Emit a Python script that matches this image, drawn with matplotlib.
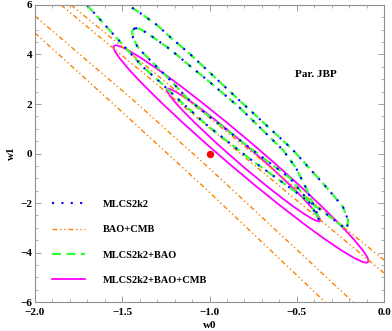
# w0-w1 confidence contours, JBP parametrisation

import matplotlib
matplotlib.use('Agg')
import matplotlib.pyplot as plt
from matplotlib.patches import Ellipse
from matplotlib.ticker import MultipleLocator

# MLCS2k2 and MLCS2k2+BAO contours coincide on the figure (w0, w1)
outer_w0 = [-1.702, -1.599, -1.496, -1.381, -1.284, -1.181, -1.009, -0.768, -0.521, -0.338, -0.241, -0.212,
            -0.206, -0.235, -0.287, -0.367, -0.527, -0.831, -1.112, -1.226, -1.301, -1.381, -1.467]
outer_w1 = [6.0, 5.192, 4.384, 3.495, 2.889, 2.202, 1.111, -0.222, -1.475, -2.404, -2.929, -3.051,
            -2.687, -2.162, -1.717, -1.071, 0.182, 2.162, 4.020, 4.707, 5.192, 5.596, 6.0]
inner_w0 = [-1.427, -1.444, -1.438, -1.415, -1.381, -1.324, -1.266, -1.209, -1.129, -1.054, -0.997, -0.768,
            -0.539, -0.436, -0.390, -0.372, -0.395, -0.447, -0.504, -0.579, -0.831, -1.020, -1.112, -1.186,
            -1.244, -1.301, -1.358, -1.398, -1.427]
inner_w1 = [5.071, 4.949, 4.667, 4.343, 4.061, 3.657, 3.253, 2.848, 2.242, 1.798, 1.475, 0.222,
            -0.990, -1.879, -2.444, -2.687, -2.202, -1.394, -0.586, 0.141, 1.879, 3.010, 3.535, 3.980,
            4.303, 4.586, 4.869, 5.030, 5.071]

# BAO+CMB band edges
bao_w0 = [[-2.0, -1.438, -1.009, -0.596, -0.178],
          [-2.0, -1.513, -1.014, -0.338],
          [-1.851, -1.020, 0.0],
          [-1.794, -1.020, 0.0]]
bao_w1 = [[5.556, 2.162, -0.545, -3.253, -6.0],
          [4.869, 1.758, -1.475, -6.0],
          [6.0, 1.152, -4.828],
          [6.0, 1.556, -4.303]]

# MLCS2k2+BAO+CMB ellipses: center, width, height, angle (data units)
ell_center = [(-0.8195, -0.020), (-0.8052, -0.0606)]
ell_width = [8.894, 5.430]
ell_height = [0.261, 0.155]
ell_angle = [-80.70, -80.83]

fiducial = (-1.0, 0.0)

plt.rcParams['font.family'] = 'Liberation Serif'
plt.rcParams['font.weight'] = 'bold'
plt.rcParams['axes.labelweight'] = 'bold'
plt.rcParams['font.size'] = 8

fig = plt.figure(figsize=(3.92, 3.31), dpi=100)
ax = fig.add_axes([0.0893, 0.0876, 0.8903, 0.8973])

blue_ls = dict(color='#0000ff', lw=1.5, dashes=(1, 3.5))
orange_ls = dict(color='#ff8000', lw=1.0, dashes=(3.5, 2, 1, 2, 1, 2))
green_ls = dict(color='#33ff33', lw=1.6, dashes=(4, 2.5))
mag_ls = dict(color='#ff00ff', lw=1.3)

# legend entries in the original order
ax.plot([], [], label='MLCS2k2', **blue_ls)
ax.plot([], [], label='BAO+CMB', **orange_ls)
ax.plot([], [], label='MLCS2k2+BAO', **green_ls)
ax.plot([], [], label='MLCS2k2+BAO+CMB', **mag_ls)

for xs, ys in zip(bao_w0, bao_w1):
    ax.plot(xs, ys, **orange_ls)

for xs, ys in [(outer_w0, outer_w1), (inner_w0, inner_w1)]:
    ax.plot(xs, ys, **green_ls)
    ax.plot(xs, ys, **blue_ls)

for c, w, h, a in zip(ell_center, ell_width, ell_height, ell_angle):
    ax.add_patch(Ellipse(c, w, h, angle=a, fill=False, ec=mag_ls['color'], lw=mag_ls['lw']))

ax.plot(fiducial[0], fiducial[1], 'o', color='red', ms=4.3)

ax.text(-0.51, 3.21, 'Par. JBP', fontsize=8, fontweight='bold', va='center')

ax.set_xlim(-2, 0)
ax.set_ylim(-6, 6)
ax.xaxis.set_major_locator(MultipleLocator(0.5))
ax.xaxis.set_minor_locator(MultipleLocator(0.1))
ax.yaxis.set_major_locator(MultipleLocator(2))
ax.yaxis.set_minor_locator(MultipleLocator(0.5))
ax.tick_params(which='both', direction='in', top=True, right=True, color='#909090', labelcolor='black')
ax.tick_params(which='major', length=4, width=0.6)
ax.tick_params(which='minor', length=2, width=0.5)
ax.tick_params(axis='x', pad=4)
ax.tick_params(axis='y', pad=2)
for lbl in ax.get_xticklabels() + ax.get_yticklabels():
    lbl.set_fontweight('bold')
for s in ax.spines.values():
    s.set_color('#909090')
    s.set_linewidth(0.8)

ax.set_xlabel('w0', labelpad=3, fontweight='bold')
ax.set_ylabel('w1', labelpad=3, fontweight='bold')

ax.legend(loc='upper left', bbox_to_anchor=(0.049, 0.345), frameon=False, handlelength=3.2,
          handletextpad=1.7, labelspacing=1.55, borderaxespad=0, borderpad=0,
          prop={'weight': 'bold', 'size': 7.5})

fig.savefig('out.png', dpi=100)
